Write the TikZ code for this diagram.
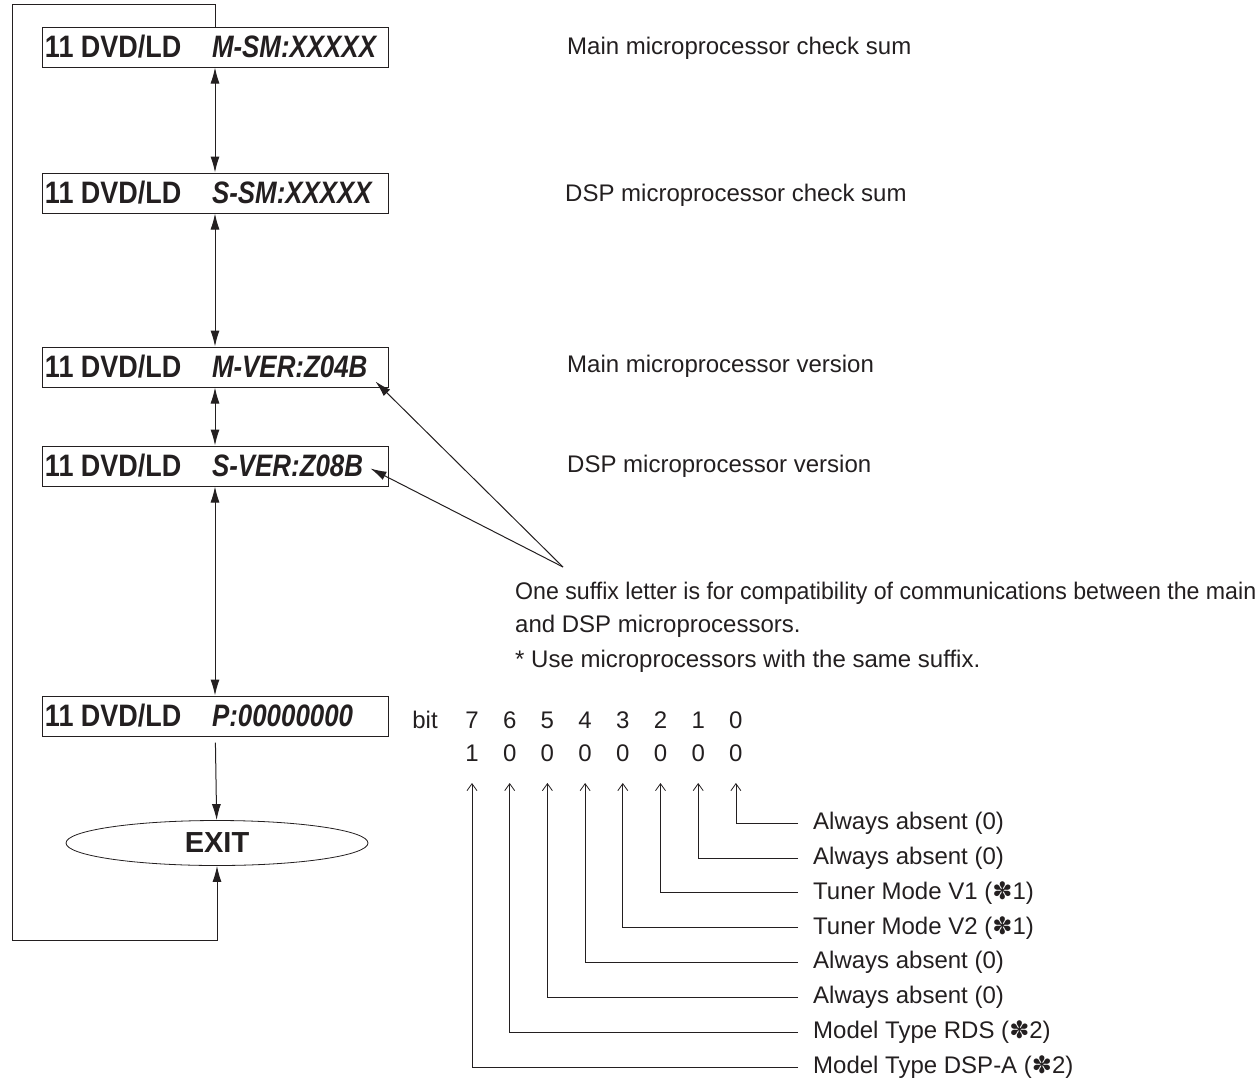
\documentclass[tikz,border=0pt]{standalone}
\usepackage{fontspec}
\setmainfont{Liberation Sans}
\newfontfamily\symfont{DejaVu Sans}
\definecolor{ink}{HTML}{231F20}
\usetikzlibrary{calc, positioning, shapes.geometric, arrows.meta}
\newcommand{\disp}[1]{\scalebox{0.87}[1]{\makebox[192pt][l]{11 DVD/LD}\scalebox{0.96}[1]{\textit{#1}}}}
\newcommand{\note}{{\symfont ✽}}

\begin{document}
\begin{tikzpicture}[
  x=1pt, y=-1pt, color=ink,
  dispbox/.style={draw, line width=1pt, minimum width=346pt, minimum height=40pt, inner sep=0pt,
    font=\fontsize{31}{31}\selectfont\bfseries},
  note/.style={anchor=west, inner sep=0pt, font=\fontsize{24}{24}\selectfont},
  flow/.style={line width=1pt, >={Latex[length=16pt, width=9pt]}},
  bitline/.style={line width=0.8pt, >={Straight Barb[length=7pt, width=10pt]}},
]
\useasboundingbox (0,0) rectangle (1259,1082);

% Display boxes
\node[dispbox] (msm)  at (215,47)  {\makebox[340pt][l]{\disp{M-SM:XXXXX}}};
\node[dispbox] (ssm)  at (215,193) {\makebox[340pt][l]{\disp{S-SM:XXXXX}}};
\node[dispbox] (mver) at (215,367) {\makebox[340pt][l]{\disp{M-VER:Z04B}}};
\node[dispbox] (sver) at (215,466) {\makebox[340pt][l]{\disp{S-VER:Z08B}}};
\node[dispbox] (pbit) at (215,716) {\makebox[340pt][l]{\disp{P:00000000}}};
\node[draw, ellipse, line width=0.8pt, minimum width=302pt, minimum height=45pt, inner sep=0pt,
  font=\fontsize{29}{29}\selectfont\bfseries] (exit) at (217,843) {EXIT};

% Flow
\draw[flow, <->] (msm) -- (ssm);
\draw[flow, <->] (ssm) -- (mver);
\draw[flow, <->] (mver) -- (sver);
\draw[flow, <->] (sver) -- (pbit);
\draw[flow, ->, shorten <=6pt] (pbit) -- (exit);
\coordinate (looptop) at (12,4);
\coordinate (loopbot) at (12,940);
\draw[flow, ->] (msm.north) |- (looptop) -- (loopbot) -| (exit.south);

% Descriptions
\node[note] (msmtxt)  at (567,48)  {Main microprocessor check sum};
\node[note] (ssmtxt)  at (565,195) {DSP microprocessor check sum};
\node[note] (mvertxt) at (567,366) {Main microprocessor version};
\node[note] (svertxt) at (567,466) {DSP microprocessor version};

% Suffix note
\coordinate (fork) at (563,567);
\draw[flow, ->] (fork) -- ($(mver.south east)+(-13,-6)$);
\draw[flow, ->] (fork) -- ($(sver.south east)+(-18,-18)$);
\node[note] (suffix1) at (515,593) {\scalebox{0.965}[1]{One suffix letter is for compatibility of communications between the main}};
\node[note] (suffix2) at (515,626) {and DSP microprocessors.};
\node[note] (suffix3) at (515,661) {* Use microprocessors with the same suffix.};

% Bits
\node[note, anchor=center] (bitlbl) at (425,720) {bit};
\foreach \k in {0,...,7} {
  \node[note, anchor=center] (d\k) at ({472+(7-\k)*37.7},720) {\k};
  \node[note, anchor=center] (v\k) at ({472+(7-\k)*37.7},753) {\ifnum\k=7 1\else 0\fi};
}
\foreach \k/\txt in {0/{Always absent (0)}, 1/{Always absent (0)}, 2/{Tuner Mode V1 (\note1)},
    3/{Tuner Mode V2 (\note1)}, 4/{Always absent (0)}, 5/{Always absent (0)},
    6/{Model Type RDS (\note2)}, 7/{Model Type DSP-A (\note2)}} {
  \node[note] (l\k) at (813,{823+\k*34.9}) {\txt};
  \draw[bitline, ->] ([xshift=-15pt]l\k.west) -| ($(v\k)+(0,30)$);
}
\end{tikzpicture}
\end{document}
